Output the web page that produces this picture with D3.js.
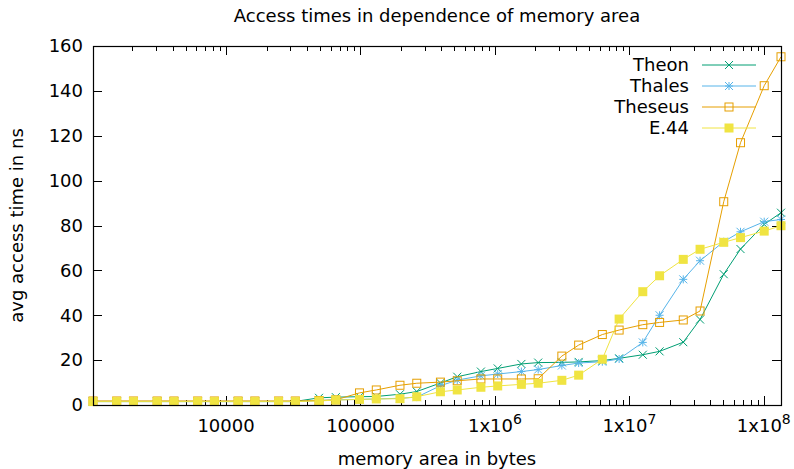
<!DOCTYPE html>
<html>
<head>
<meta charset="utf-8">
<script src="https://cdn.jsdelivr.net/npm/d3@7"></script>
<style>
  body { margin: 0; background: #fff; }
  text { font-family: 'DejaVu Sans', sans-serif; fill: #000; }
</style>
</head>
<body>
<div id="chart-area"></div>
<script>
// set margins, width/height
const margin = { left: 93, right: 13, top: 46, bottom: 64 };
const width = 794 - margin.left - margin.right;
const height = 469 - margin.top - margin.bottom;
const fontSize = '18px';

// memory sizes in bytes (2^n and 1.5*2^n)
const sizes = [
  1024, 1536, 2048, 3072, 4096, 6144, 8192, 12288, 16384, 24576, 32768,
  49152, 65536, 98304, 131072, 196608, 262144, 393216, 524288, 786432,
  1048576, 1572864, 2097152, 3145728, 4194304, 6291456, 8388608, 12582912,
  16777216, 25165824, 33554432, 50331648, 67108864, 100663296, 134217728,
];

// avg access time in ns
const theon = [
  1.6, 1.6, 1.6, 1.6, 1.6, 1.6, 1.6, 1.6, 1.6, 1.6, 1.6,
  3.2, 3.5, 3.7, 3.8, 4.8, 6.0, 9.8, 12.6, 14.9,
  16.3, 18.3, 18.9, 19.0, 19.2, 19.8, 20.8, 22.4,
  23.9, 28.0, 38.1, 58.3, 69.5, 80.5, 85.7,
];
const thales = [
  1.5, 1.5, 1.5, 1.5, 1.5, 1.5, 1.5, 1.5, 1.5, 1.5, 1.5,
  2.0, 2.3, 2.5, 2.7, 3.0, 3.5, 8.6, 11.1, 13.0,
  13.8, 14.9, 15.8, 17.6, 18.7, 19.3, 20.5, 27.9,
  40.0, 56.0, 64.3, 72.8, 77.2, 81.7, 82.7,
];
const theseus = [
  1.8, 1.8, 1.8, 1.8, 1.8, 1.8, 1.8, 1.8, 1.8, 1.8, 1.8,
  2.0, 2.3, 5.4, 6.7, 8.8, 9.7, 10.2, 10.8, 11.6,
  11.6, 11.6, 11.7, 21.8, 26.7, 31.4, 33.4, 35.8,
  36.8, 37.9, 41.9, 90.6, 116.9, 142.3, 155.2,
];
const e44 = [
  1.5, 1.5, 1.5, 1.5, 1.5, 1.5, 1.5, 1.5, 1.5, 1.5, 1.5,
  1.8, 2.2, 2.5, 2.7, 2.8, 3.7, 5.9, 6.7, 7.9,
  8.5, 9.2, 9.7, 11.0, 13.3, 20.4, 38.3, 50.5,
  57.6, 64.9, 69.4, 72.5, 74.6, 77.5, 79.9,
];

const seriesNames = ['Theon', 'Thales', 'Theseus', 'E.44'];
const seriesValues = [theon, thales, theseus, e44];
const seriesColors = ['#009e73', '#56b4e9', '#e69f00', '#f0e442'];
const seriesMarks = ['cross', 'star', 'box', 'fbox'];

const yTicks = [0, 20, 40, 60, 80, 100, 120, 140, 160];
const xMajor = [1e4, 1e5, 1e6, 1e7, 1e8];
const xLabels = [['10000'], ['100000'], ['1x10', '6'], ['1x10', '7'], ['1x10', '8']];

const svg = d3
  .select('#chart-area')
  .append('svg')
  .attr('width', 794)
  .attr('height', 469);

const g = svg
  .append('g')
  .attr('transform', `translate(${margin.left}, ${margin.top})`);

// Scales
const x = d3.scaleLog().range([0, width]).domain([1024, 134217728]);
const y = d3.scaleLinear().range([height, 0]).domain([0, 160]);

// minor ticks 2..9 per decade inside the domain
const xMinor = [];
for (let e = 3; e <= 8; e++) {
  for (let m = 2; m <= 9; m++) {
    const v = m * Math.pow(10, e);
    if (v > 1024 && v < 134217728) xMinor.push(v);
  }
}

const tickG = g.append('g').attr('stroke', '#000').attr('stroke-width', 1);

// x ticks, bottom and mirrored on top, pointing inward
xMajor.forEach((v) => {
  const px = Math.round(x(v)) + 0.5;
  tickG.append('line').attr('x1', px).attr('x2', px).attr('y1', height).attr('y2', height - 9);
  tickG.append('line').attr('x1', px).attr('x2', px).attr('y1', 0).attr('y2', 9);
});
xMinor.forEach((v) => {
  const px = Math.round(x(v)) + 0.5;
  tickG.append('line').attr('x1', px).attr('x2', px).attr('y1', height).attr('y2', height - 5);
  tickG.append('line').attr('x1', px).attr('x2', px).attr('y1', 0).attr('y2', 5);
});

// y ticks, left and mirrored on right
yTicks.forEach((v) => {
  const py = Math.round(y(v)) + 0.5;
  tickG.append('line').attr('x1', 0).attr('x2', 9).attr('y1', py).attr('y2', py);
  tickG.append('line').attr('x1', width).attr('x2', width - 9).attr('y1', py).attr('y2', py);
});

// tick labels
g.selectAll('.y-label')
  .data(yTicks)
  .enter()
  .append('text')
  .attr('class', 'y-label')
  .attr('x', -10)
  .attr('y', (d) => y(d))
  .attr('dy', '0.35em')
  .attr('text-anchor', 'end')
  .style('font-size', fontSize)
  .text((d) => d);

xMajor.forEach((v, i) => {
  const t = g
    .append('text')
    .attr('x', x(v))
    .attr('y', height + 27)
    .attr('text-anchor', 'middle')
    .style('font-size', fontSize);
  t.append('tspan').text(xLabels[i][0]);
  if (xLabels[i][1]) {
    t.append('tspan').attr('dy', -8).style('font-size', '14px').text(xLabels[i][1]);
  }
});

// series
const line = d3
  .line()
  .x((d) => x(d[0]))
  .y((d) => y(d[1]));

function drawMark(sel, type, color) {
  const s = 4;
  if (type === 'cross' || type === 'star') {
    sel.append('path')
      .attr('d', `M${-s},${-s}L${s},${s}M${-s},${s}L${s},${-s}`)
      .attr('stroke', color)
      .attr('stroke-width', 1);
  }
  if (type === 'star') {
    sel.append('path')
      .attr('d', `M${-s},0L${s},0M0,${-s}L0,${s}`)
      .attr('stroke', color)
      .attr('stroke-width', 1);
  }
  if (type === 'box') {
    sel.append('rect')
      .attr('x', -s).attr('y', -s).attr('width', 2 * s).attr('height', 2 * s)
      .attr('fill', 'none')
      .attr('stroke', color)
      .attr('stroke-width', 1);
  }
  if (type === 'fbox') {
    sel.append('rect')
      .attr('x', -s - 0.5).attr('y', -s - 0.5).attr('width', 2 * s + 1).attr('height', 2 * s + 1)
      .attr('fill', color);
  }
}

seriesValues.forEach((vals, i) => {
  const pts = sizes.map((s, j) => [s, vals[j]]);
  g.append('path')
    .attr('fill', 'none')
    .attr('stroke', seriesColors[i])
    .attr('stroke-width', 1)
    .attr('d', line(pts));
  g.selectAll(`.mark-${i}`)
    .data(pts)
    .enter()
    .append('g')
    .attr('class', `mark-${i}`)
    .attr('transform', (d) => `translate(${x(d[0])}, ${y(d[1])})`)
    .each(function () {
      drawMark(d3.select(this), seriesMarks[i], seriesColors[i]);
    });
});

// legend top-right
const legend = g.append('g').attr('transform', `translate(${width - 92}, 19)`);
seriesNames.forEach((name, i) => {
  const row = legend.append('g').attr('transform', `translate(0, ${i * 21})`);
  row.append('text')
    .attr('x', 0)
    .attr('y', 0)
    .attr('dy', '0.35em')
    .attr('text-anchor', 'end')
    .style('font-size', fontSize)
    .text(name);
  row.append('line')
    .attr('x1', 13).attr('x2', 67).attr('y1', 0).attr('y2', 0)
    .attr('stroke', seriesColors[i])
    .attr('stroke-width', 1);
  const mk = row.append('g').attr('transform', 'translate(40, 0)');
  drawMark(mk, seriesMarks[i], seriesColors[i]);
});

// border
g.append('rect')
  .attr('x', 0.5)
  .attr('y', 0.5)
  .attr('width', width)
  .attr('height', height)
  .attr('fill', 'none')
  .attr('stroke', '#000')
  .attr('stroke-width', 1.2);

// titles
svg.append('text')
  .attr('x', margin.left + width / 2)
  .attr('y', 22)
  .attr('text-anchor', 'middle')
  .style('font-size', fontSize)
  .text('Access times in dependence of memory area');

svg.append('text')
  .attr('x', margin.left + width / 2)
  .attr('y', 465)
  .attr('text-anchor', 'middle')
  .style('font-size', fontSize)
  .text('memory area in bytes');

svg.append('text')
  .attr('transform', `translate(23, ${margin.top + height / 2}) rotate(-90)`)
  .attr('text-anchor', 'middle')
  .style('font-size', fontSize)
  .text('avg access time in ns');
</script>
</body>
</html>
